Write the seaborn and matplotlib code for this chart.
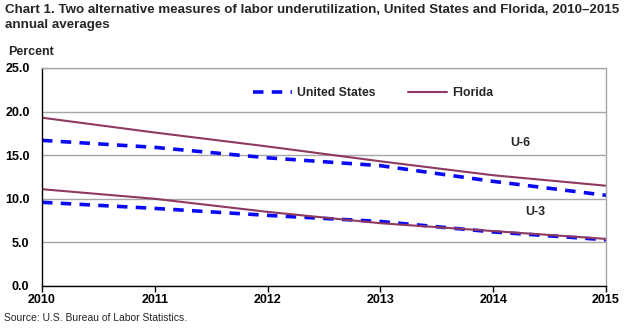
import matplotlib
matplotlib.use("Agg")
import matplotlib.pyplot as plt
import seaborn as sns
import pandas as pd

years = [2010, 2011, 2012, 2013, 2014, 2015]
us_u6 = [16.7, 15.9, 14.7, 13.8, 12.0, 10.4]
fl_u6 = [19.3, 17.6, 16.0, 14.3, 12.7, 11.5]
us_u3 = [9.6, 8.9, 8.1, 7.4, 6.2, 5.3]
fl_u3 = [11.1, 10.0, 8.5, 7.2, 6.3, 5.4]
y_ticks = [0, 5, 10, 15, 20, 25]

sns.set_theme(style="white")
plt.rcParams["font.family"] = ["Liberation Sans", "DejaVu Sans"]

US_COLOR = "#0A0AF5"
FL_COLOR = "#8E3A60"

rows = []
for measure, us, fl in (("U-6", us_u6, fl_u6), ("U-3", us_u3, fl_u3)):
    for y, a, b in zip(years, us, fl):
        rows.append({"year": y, "measure": measure, "area": "United States", "rate": a})
        rows.append({"year": y, "measure": measure, "area": "Florida", "rate": b})
df = pd.DataFrame(rows)

fig = plt.figure(figsize=(6.29, 3.29), dpi=100)
ax = fig.add_axes([42 / 629, 1 - 286 / 329, (606 - 42) / 629, (286 - 68) / 329])

for measure in ("U-6", "U-3"):
    sub = df[df["measure"] == measure]
    sns.lineplot(data=sub[sub["area"] == "United States"], x="year", y="rate",
                 color=US_COLOR, linewidth=2.6, ax=ax,
                 label="United States" if measure == "U-6" else None)
    sns.lineplot(data=sub[sub["area"] == "Florida"], x="year", y="rate",
                 color=FL_COLOR, linewidth=1.5, ax=ax,
                 label="Florida" if measure == "U-6" else None)

for line in ax.get_lines():
    if line.get_color().lower() == US_COLOR.lower():
        line.set_dashes((2.9, 2.3))
        line.set_dash_capstyle("butt")

ax.set_xlim(2010, 2015)
ax.set_ylim(0, 25)
ax.set_yticks(y_ticks)
ax.set_yticklabels([f"{v:.1f}" for v in y_ticks])
ax.set_xticks(years)
ax.set_xticklabels([str(y) for y in years])
ax.set_xlabel("")
ax.set_ylabel("")
ax.yaxis.grid(True, color="#A6A6A6", linewidth=1.0)
ax.set_axisbelow(True)
for t in ax.get_xticklabels() + ax.get_yticklabels():
    t.set_fontweight("bold")
    t.set_fontsize(9)
    t.set_color("black")
ax.tick_params(axis="x", which="major", bottom=True, length=4, width=1, color="black", pad=2)
ax.tick_params(axis="y", left=False, pad=3)

for side in ("top", "right"):
    ax.spines[side].set_color("#A6A6A6")
    ax.spines[side].set_linewidth(1.0)
for side in ("left", "bottom"):
    ax.spines[side].set_color("black")
    ax.spines[side].set_linewidth(1.0)

leg = ax.legend(loc="center", bbox_to_anchor=(0.587, 0.885), ncol=2, frameon=False,
                prop={"weight": "bold", "size": 8.8}, handlelength=3.2,
                columnspacing=2.6, handletextpad=0.4)

ax.text(2014.15, 16.4, "U-6", fontsize=9, fontweight="bold", ha="left", va="center")
ax.text(2014.28, 8.5, "U-3", fontsize=9, fontweight="bold", ha="left", va="center")

fig.text(5 / 629, 1 - 4 / 329,
         "Chart 1. Two alternative measures of labor underutilization, United States and Florida, 2010\u20132015\nannual averages",
         fontsize=9.6, fontweight="bold", ha="left", va="top", linespacing=1.3)
fig.text(8 / 629, 1 - 52 / 329, "Percent", fontsize=9, fontweight="bold", ha="left", va="center")
fig.text(4 / 629, 1 - 318 / 329, "Source: U.S. Bureau of Labor Statistics.", fontsize=7.5,
         ha="left", va="center")

fig.savefig("out.png", dpi=100, facecolor="white")
